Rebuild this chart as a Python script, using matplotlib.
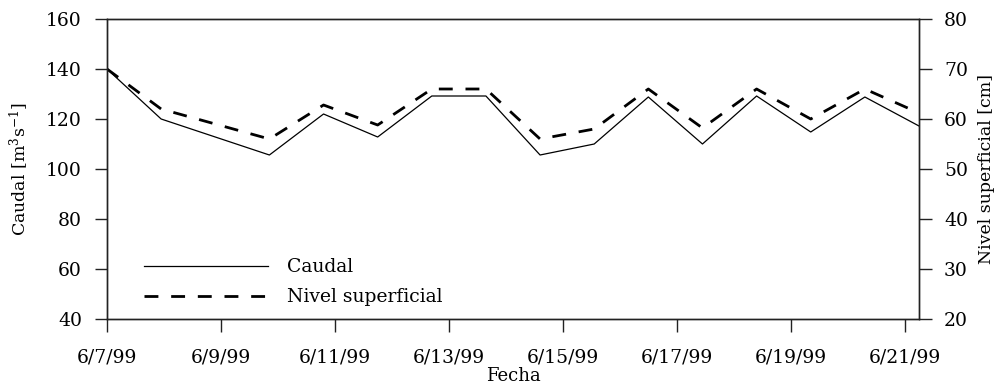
import matplotlib
matplotlib.use("Agg")
import matplotlib.pyplot as plt

plt.rcParams['font.family'] = ['DejaVu Serif']
plt.rcParams['mathtext.fontset'] = 'dejavuserif'

# days since 6/7/99
dias = [0, 0.95, 1.9, 2.85, 3.8, 4.75, 5.7, 6.65, 7.6, 8.55, 9.5, 10.45,
        11.4, 12.35, 13.3, 14.25]
caudal = [140, 120, 112.8, 105.6, 122, 112.8, 129.2, 129.2, 105.6, 110,
          128.8, 110, 129.2, 114.8, 128.8, 117.2]
nivel = [70, 62, 59, 56, 62.8, 58.8, 66, 66, 56, 58, 66, 58.2, 66, 60, 66, 61.2]

tick_dias = [0, 2, 4, 6, 8, 10, 12, 14]
tick_labels = ['6/7/99', '6/9/99', '6/11/99', '6/13/99', '6/15/99',
               '6/17/99', '6/19/99', '6/21/99']

fs = 13.5

fig = plt.figure(figsize=(10.01, 3.92), dpi=100)
ax = fig.add_axes([107/1001, 1 - 319/392, 812/1001, 300/392])
ax2 = ax.twinx()

l1, = ax.plot(dias, caudal, color='black', lw=0.9, label='Caudal')
l2, = ax2.plot(dias, nivel, color='black', lw=2.0, dashes=(5, 4.6),
               label='Nivel superficial')

ax.set_xlim(0, 14.25)
ax.set_ylim(40, 160)
ax2.set_ylim(20, 80)
ax.set_yticks(range(40, 161, 20))
ax2.set_yticks(range(20, 81, 10))
ax.set_xticks(tick_dias)
ax.set_xticklabels(tick_labels)

for a in (ax, ax2):
    for s in a.spines.values():
        s.set_color('#222222')
        s.set_linewidth(1.0)
    a.tick_params(direction='out', length=9, width=1.0, pad=9,
                  labelsize=fs, color='#222222')
ax.tick_params(axis='x', pad=12.5)

ax.set_xlabel('Fecha', fontsize=13, labelpad=0)
ax.set_ylabel(r'Caudal [m$^3$s$^{-1}$]', fontsize=12.5, labelpad=11)
ax2.set_ylabel('Nivel superficial [cm]', fontsize=12.5, labelpad=7)

ax.legend([l1, l2], ['Caudal', 'Nivel superficial'], loc='center left',
          bbox_to_anchor=(0.0455, 0.122), frameon=False, fontsize=fs,
          handlelength=6.6, handletextpad=1.05, borderpad=0, borderaxespad=0,
          labelspacing=0.65)

fig.savefig('out.png', dpi=100)
